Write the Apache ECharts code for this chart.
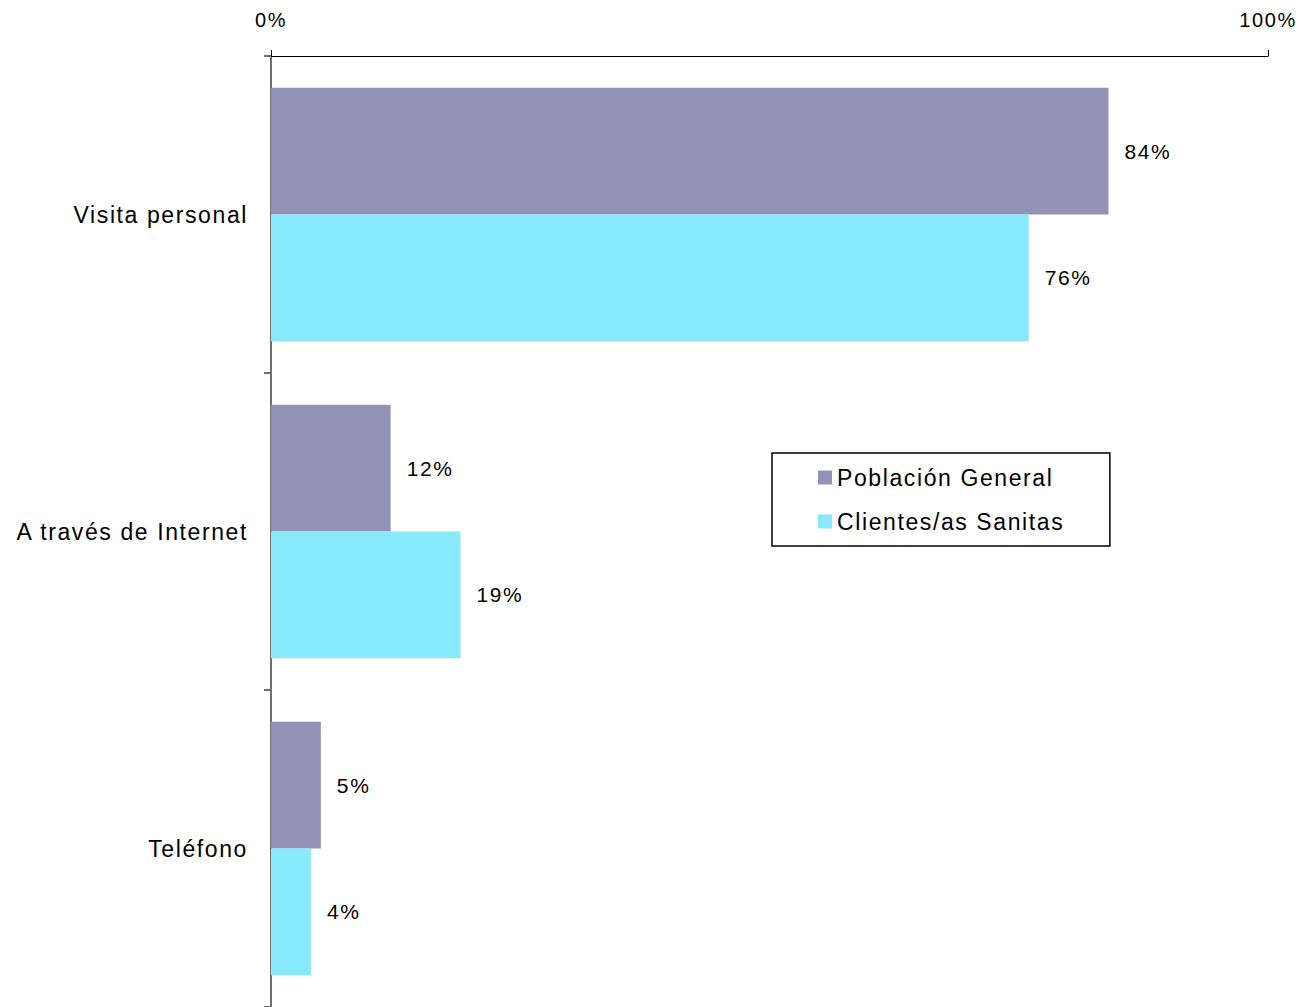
<!DOCTYPE html>
<html>
<head>
<meta charset="utf-8">
<script src="https://cdn.jsdelivr.net/npm/echarts@6/dist/echarts.min.js"></script>
<style>
  html, body { margin: 0; padding: 0; background: #fff; }
  #chart { width: 1305px; height: 1007px; }
  /* reference text runs wider than plain Arial */
  #chart text { letter-spacing: 1.6px; }
</style>
</head>
<body>
<div id="chart"></div>
<script>
// data
const categories = ['Visita personal', 'A través de Internet', 'Teléfono']
const seriesNames = ['Población General', 'Clientes/as Sanitas']
const poblacionGeneral = [84, 12, 5]
const clientesSanitas = [76, 19, 4]
const colors = ['#9292B6', '#88E8FC']

const font = '"Liberation Sans", Arial, sans-serif'

const labelStyle = {
  show: true,
  position: 'right',
  distance: 16,
  formatter: '{c}%',
  color: '#000',
  fontFamily: font,
  fontSize: 21,
}

const chart = echarts.init(document.getElementById('chart'), null, { renderer: 'svg' })
chart.setOption({
  animation: false,
  grid: { left: 271, right: 37, top: 56, bottom: 0 },
  legend: {
    orient: 'vertical',
    left: 772,
    top: 453,
    // extra right padding makes room for the letter spacing
    padding: [13, 76, 13, 46],
    itemWidth: 14,
    itemHeight: 14,
    itemGap: 21,
    itemTextGap: 6,
    borderColor: '#000',
    borderWidth: 1.5,
    icon: 'rect',
    data: seriesNames,
    textStyle: { color: '#000', fontFamily: font, fontSize: 23 },
  },
  xAxis: {
    type: 'value',
    position: 'top',
    min: 0,
    max: 100,
    interval: 100,
    axisLine: { show: true, lineStyle: { color: '#000', width: 1 } },
    axisTick: { show: true, length: 6, lineStyle: { color: '#000' } },
    splitLine: { show: false },
    axisLabel: {
      formatter: '{value}%',
      margin: 26,
      color: '#000',
      fontFamily: font,
      fontSize: 20,
    },
  },
  yAxis: {
    type: 'category',
    inverse: true,
    data: categories,
    axisLine: { show: true, lineStyle: { color: '#707070', width: 2 } },
    axisTick: { show: true, length: 7, lineStyle: { color: '#707070', width: 2 } },
    axisLabel: {
      margin: 23,
      color: '#000',
      fontFamily: font,
      fontSize: 23,
    },
  },
  series: [
    {
      name: seriesNames[0],
      type: 'bar',
      data: poblacionGeneral,
      itemStyle: { color: colors[0] },
      barGap: '0%',
      barCategoryGap: '20%',
      label: labelStyle,
    },
    {
      name: seriesNames[1],
      type: 'bar',
      data: clientesSanitas,
      itemStyle: { color: colors[1] },
      barGap: '0%',
      barCategoryGap: '20%',
      label: labelStyle,
    },
  ],
})
</script>
</body>
</html>
